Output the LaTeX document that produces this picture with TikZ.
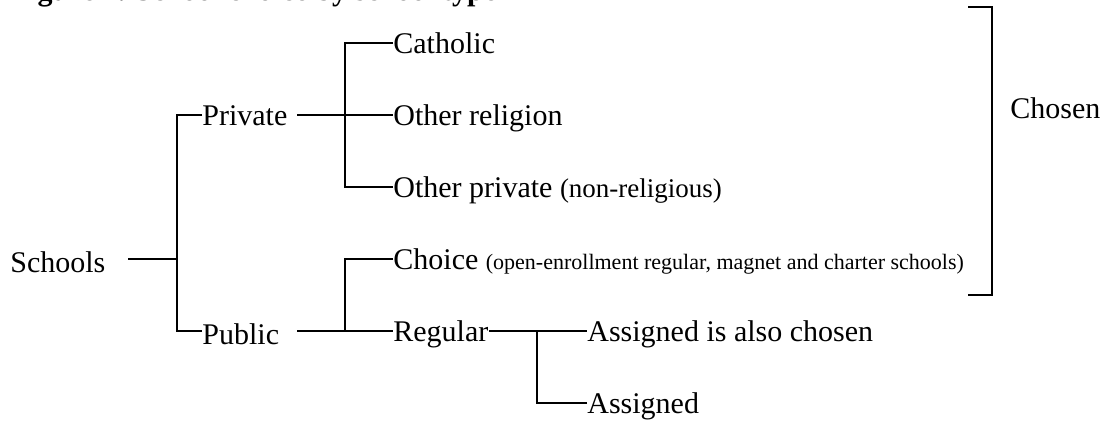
\documentclass[tikz,border=0pt]{standalone}
\usepackage{fontspec}
\setmainfont{Liberation Serif}
\newcommand{\mainsz}{\fontsize{15}{18}\selectfont}
\newcommand{\smallsz}{\fontsize{11}{13}\selectfont}
\newcommand{\midsz}{\fontsize{13.5}{16}\selectfont}
\tikzset{
  lbl/.style={anchor=west, inner sep=0pt, text height=10pt, text depth=0pt, font=\mainsz},
  lowlbl/.style={lbl, text height=13pt},
  conn/.style={draw=black, line width=1pt},
}
\begin{document}
\begin{tikzpicture}[x=0.5pt, y=-0.5pt]
\useasboundingbox (0,0) rectangle (1102,428);
% title (cut at the top)
\node[anchor=base west, inner sep=0pt, font=\bfseries\mainsz] (title) at (10.5,1) {Figure 1. School choice by school type};
% nodes
\node[lowlbl] (schools) at (10,259) {Schools};
\node[lbl] (private) at (202,115) {Private};
\node[lowlbl] (public) at (202,331) {Public};
\node[lbl] (catholic) at (393,43) {Catholic};
\node[lbl] (religion) at (393,115) {Other religion};
\node[lbl] (otherpriv) at (393,187) {Other private {\midsz(non-religious)}};
\node[lbl] (choice) at (393,259) {Choice {\smallsz(open-enrollment regular, magnet and charter schools)}};
\node[lbl] (regular) at (393,331) {Regular};
\node[lbl] (also) at (587,331) {Assigned is also chosen};
\node[lbl] (assigned) at (587,403) {Assigned};
\node[lbl] (chosen) at (1010,108) {Chosen};
% junctions and free ends
\coordinate (jA) at (177,259);
\coordinate (jB) at (345,115);
\coordinate (jC) at (345,331);
\coordinate (jD) at (537,331);
\coordinate (sOut) at (128,259);
\coordinate (prOut) at (297,115);
\coordinate (puOut) at (297,331);
\coordinate (brTop) at (968,7);
\coordinate (brBot) at (968,295);
% connectors
\draw[conn] (sOut) -- (jA);
\draw[conn] (private.west) -| (jA) |- (public.west);
\draw[conn] (prOut) -- (religion.west);
\draw[conn] (catholic.west) -| (jB) |- (otherpriv.west);
\draw[conn] (puOut) -- (regular.west);
\draw[conn] (choice.west) -| (jC);
\draw[conn] (regular.east) -- (also.west);
\draw[conn] (assigned.west) -| (jD);
% bracket
\draw[conn] (brTop) -- ++(24,0) |- (brBot);
\end{tikzpicture}
\end{document}
